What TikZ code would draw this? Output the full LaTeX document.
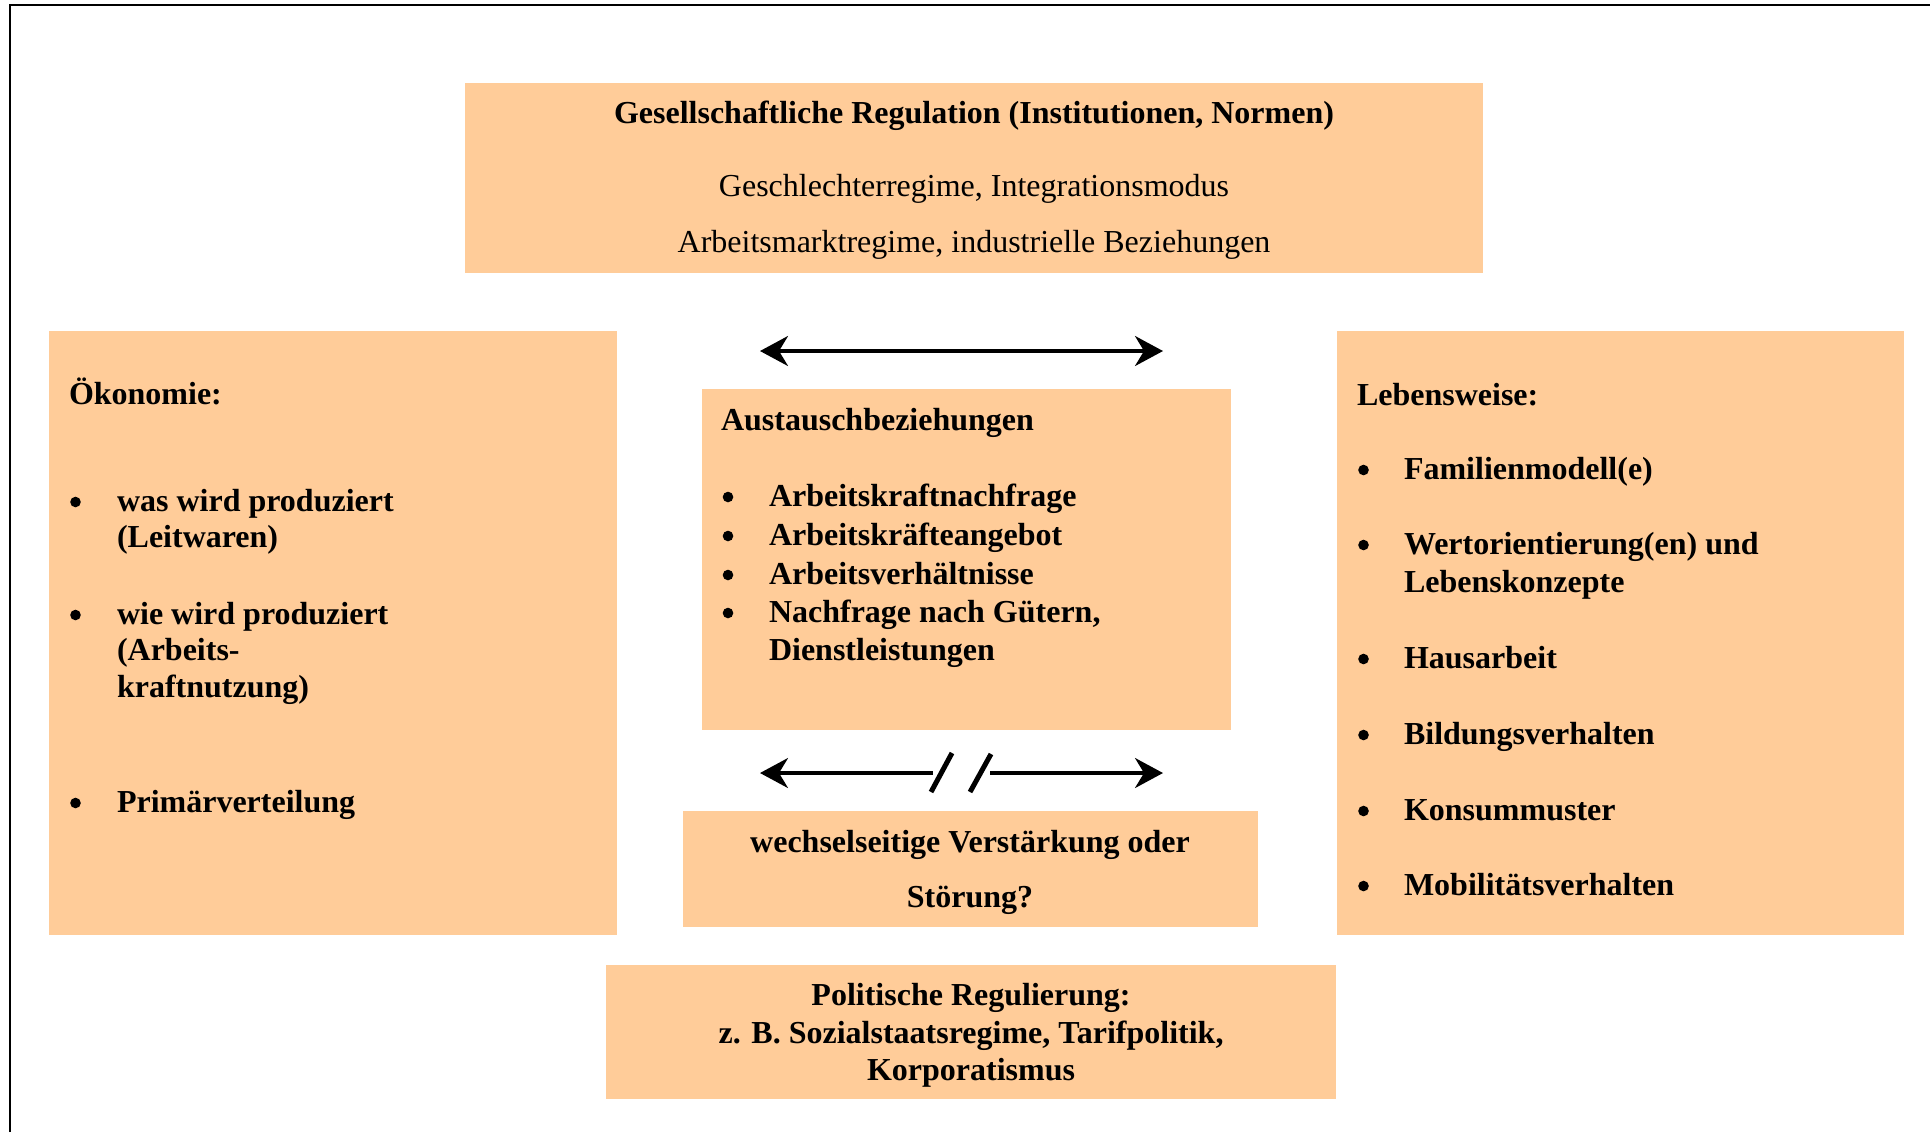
\documentclass[tikz,border=0pt]{standalone}
\usepackage{fontspec}
\setmainfont{Liberation Serif}
\usetikzlibrary{arrows.meta}
\definecolor{peach}{HTML}{FFCC99}

\begin{document}
\begin{tikzpicture}[x=0.5pt, y=-0.5pt, line width=1pt,
  every node/.style={inner sep=0pt, font=\fontsize{16}{18}\selectfont},
  lbl/.style={anchor=base west, font=\fontsize{16}{18}\selectfont\bfseries},
  ctr/.style={anchor=base, font=\fontsize{16}{18}\selectfont\bfseries},
  plain/.style={anchor=base, font=\fontsize{16}{18}\selectfont},
  link/.style={line width=1.7pt, >={Stealth[length=14pt, width=15pt, inset=4.5pt]}}]
\useasboundingbox (0,0) rectangle (1930,1132);
% frame
\draw (10,1132) -- (10,5) -- (1930,5);
% boxes
\fill[peach] (465,83) rectangle (1483,273);
\fill[peach] (49,331) rectangle (617,935);
\fill[peach] (1337,331) rectangle (1904,935);
\fill[peach] (702,389) rectangle (1231,730);
\fill[peach] (683,811) rectangle (1258,927);
\fill[peach] (606,965) rectangle (1336,1099);
%% box Regulation
\node[ctr] (reg) at (974,123) {Gesellschaftliche Regulation (Institutionen, Normen)};
\node[plain] (reg2) at (974,196.5) {Geschlechterregime, Integrationsmodus};
\node[plain] (reg3) at (974,252.5) {Arbeitsmarktregime, industrielle Beziehungen};
%% box Oekonomie
\node[lbl] (oek) at (68,404) {Ökonomie:};
\fill (75.5,502) circle (5.3);
\node[lbl] (oek1) at (116,511) {was wird produziert};
\node[lbl] (oek1b) at (116,547) {(Leitwaren)};
\fill (75.5,615) circle (5.3);
\node[lbl] (oek2) at (116,624) {wie wird produziert};
\node[lbl] (oek2b) at (116,660.5) {(Arbeits-};
\node[lbl] (oek2c) at (116,697) {kraftnutzung)};
\fill (75.5,803) circle (5.3);
\node[lbl] (oek3) at (116,812) {Primärverteilung};
%% box Austausch
\node[lbl] (aus) at (720,430.5) {Austauschbeziehungen};
\fill (728,497) circle (5.3);
\node[lbl] (aus1) at (768,506.5) {Arbeitskraftnachfrage};
\fill (728,536) circle (5.3);
\node[lbl] (aus2) at (768,545.5) {Arbeitskräfteangebot};
\fill (728,575) circle (5.3);
\node[lbl] (aus3) at (768,584.5) {Arbeitsverhältnisse};
\fill (728,613) circle (5.3);
\node[lbl] (aus4) at (768,622.5) {Nachfrage nach Gütern,};
\node[lbl] (aus4b) at (768,660) {Dienstleistungen};
%% box Lebensweise
\node[lbl] (leb) at (1356,405) {Lebensweise:};
\fill (1363.5,470) circle (5.3);
\node[lbl] (leb1) at (1403,479) {Familienmodell(e)};
\fill (1363.5,545) circle (5.3);
\node[lbl] (leb2) at (1403,554) {Wertorientierung(en) und};
\node[lbl] (leb2b) at (1403,592) {Lebenskonzepte};
\fill (1363.5,659) circle (5.3);
\node[lbl] (leb3) at (1403,668) {Hausarbeit};
\fill (1363.5,735) circle (5.3);
\node[lbl] (leb4) at (1403,744) {Bildungsverhalten};
\fill (1363.5,811) circle (5.3);
\node[lbl] (leb5) at (1403,820) {Konsummuster};
\fill (1363.5,886) circle (5.3);
\node[lbl] (leb6) at (1403,895) {Mobilitätsverhalten};
%% box Verstaerkung
\node[ctr] (wech) at (970,852.5) {wechselseitige Verstärkung oder};
\node[ctr] (wech2) at (970,907.5) {Störung?};
%% box Politik
\node[ctr] (pol) at (971,1005.5) {Politische Regulierung:};
\node[ctr] (pol2) at (971,1043.5) {z. B. Sozialstaatsregime, Tarifpolitik,};
\node[ctr] (pol3) at (971,1080.5) {Korporatismus};
% arrows
\coordinate (uL) at (760,351);
\coordinate (uR) at (1163,351);
\draw[link, <->] (uL) -- (uR);
\coordinate (dL) at (760,773);
\coordinate (dM1) at (933,773);
\coordinate (dM2) at (990,773);
\coordinate (dR) at (1163,773);
\draw[link, ->] (dM1) -- (dL);
\draw[link, ->] (dM2) -- (dR);
\draw[line width=2.5pt] (931,792) -- (952,753);
\draw[line width=2.5pt] (970,792) -- (991,754);
\end{tikzpicture}
\end{document}
